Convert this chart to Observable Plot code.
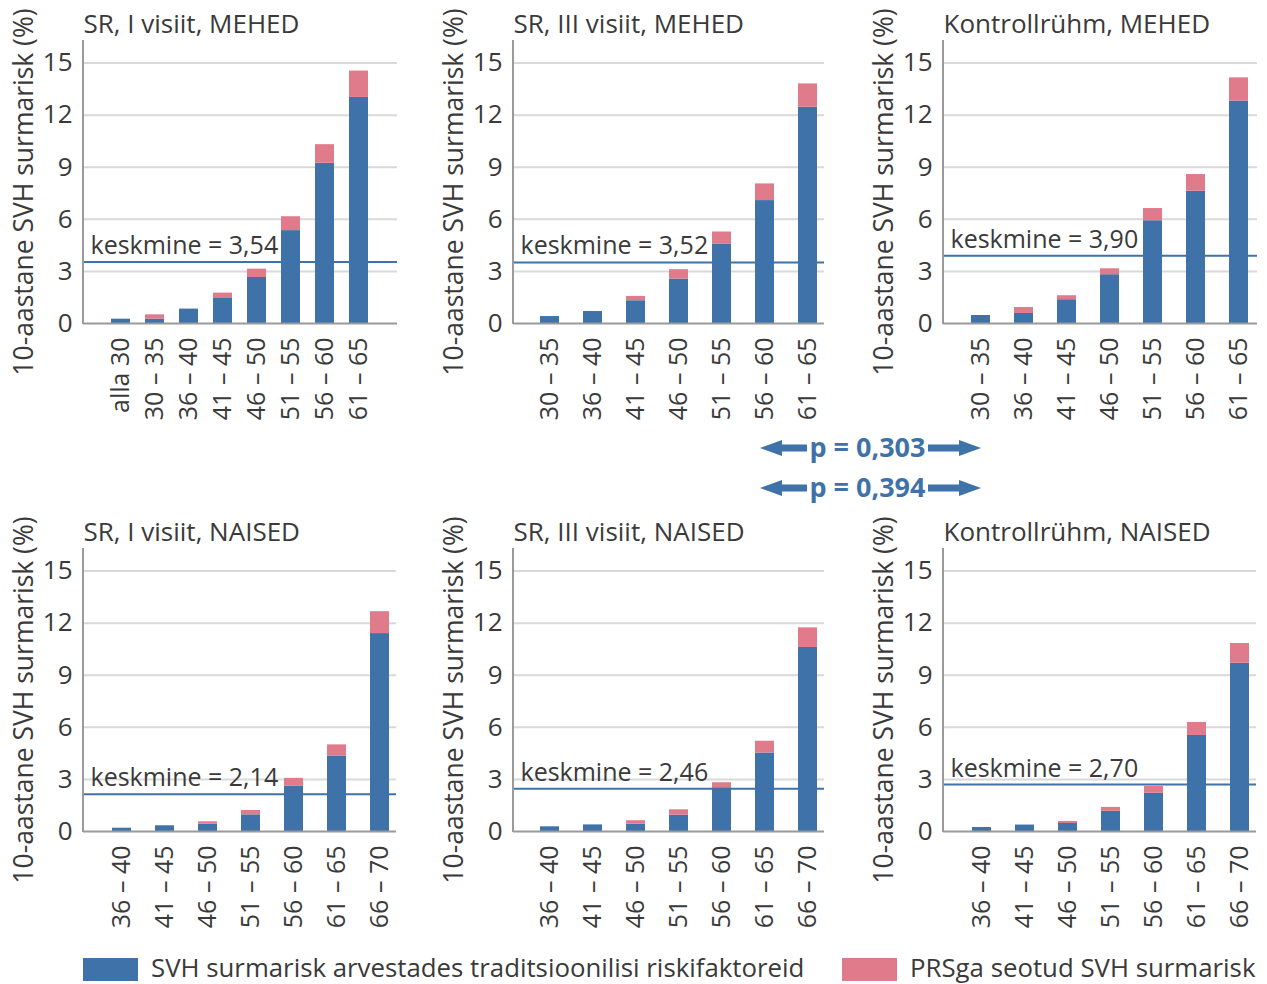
<!DOCTYPE html>
<html><head><meta charset="utf-8">
<script src="https://cdn.jsdelivr.net/npm/d3@7"></script>
<script src="https://cdn.jsdelivr.net/npm/@observablehq/plot@0.6"></script>
<style>
body{margin:0;background:#fff;}
#root{position:relative;width:1267px;height:984px;font-family:"Open Sans",sans-serif;color:#3a3a3a;overflow:hidden;}
.panel{position:absolute;}
.legend{position:absolute;top:950px;font-size:25.8px;white-space:nowrap;line-height:34px;}
.sw{position:absolute;width:55px;height:23px;top:8px;}
</style></head><body><div id="root"></div>
<script>
// ---------- data ----------
const yTicks = [0, 3, 6, 9, 12, 15];
const yLabel = "10-aastane SVH surmarisk (%)";
const legendTrad = "SVH surmarisk arvestades traditsioonilisi riskifaktoreid";
const legendPrs = "PRSga seotud SVH surmarisk";
const pValues = ["0,303", "0,394"];

const titles = ["SR, I visiit, MEHED", "SR, III visiit, MEHED", "Kontrollrühm, MEHED",
                "SR, I visiit, NAISED", "SR, III visiit, NAISED", "Kontrollrühm, NAISED"];

const agesMen1 = ["alla 30", "30 – 35", "36 – 40", "41 – 45", "46 – 50", "51 – 55", "56 – 60", "61 – 65"];
const agesMen = ["30 – 35", "36 – 40", "41 – 45", "46 – 50", "51 – 55", "56 – 60", "61 – 65"];
const agesWomen = ["36 – 40", "41 – 45", "46 – 50", "51 – 55", "56 – 60", "61 – 65", "66 – 70"];

const tradMen1 = [0.25, 0.25, 0.83, 1.44, 2.65, 5.35, 9.23, 13.02];
const prsMen1  = [0.00, 0.25, 0.00, 0.31, 0.48, 0.80, 1.07, 1.52];
const tradMen3 = [0.40, 0.69, 1.31, 2.56, 4.58, 7.08, 12.46];
const prsMen3  = [0.00, 0.00, 0.25, 0.54, 0.69, 0.96, 1.34];
const tradMenC = [0.46, 0.58, 1.37, 2.81, 5.92, 7.62, 12.81];
const prsMenC  = [0.00, 0.34, 0.23, 0.34, 0.70, 0.96, 1.34];
const tradWomen1 = [0.19, 0.33, 0.42, 0.96, 2.62, 4.35, 11.40];
const prsWomen1  = [0.00, 0.00, 0.14, 0.25, 0.44, 0.64, 1.26];
const tradWomen3 = [0.27, 0.38, 0.42, 0.94, 2.46, 4.52, 10.60];
const prsWomen3  = [0.00, 0.00, 0.20, 0.31, 0.35, 0.68, 1.13];
const tradWomenC = [0.23, 0.37, 0.46, 1.16, 2.20, 5.53, 9.69];
const prsWomenC  = [0.00, 0.00, 0.12, 0.23, 0.40, 0.75, 1.14];

const means = [3.54, 3.52, 3.90, 2.14, 2.46, 2.70];

// ---------- styles / layout ----------
const FONT = "'Open Sans', sans-serif";
const BLUE = "#3f72a9", PINK = "#e07b8c", GRID = "#d9d9d9", AXIS = "#9a9a9a", TEXT = "#3a3a3a";
const TRAD = "trad", PRS = "prs";

const series = [
  {cats: agesMen1, trad: tradMen1, prs: prsMen1},
  {cats: agesMen, trad: tradMen3, prs: prsMen3},
  {cats: agesMen, trad: tradMenC, prs: prsMenC},
  {cats: agesWomen, trad: tradWomen1, prs: prsWomen1},
  {cats: agesWomen, trad: tradWomen3, prs: prsWomen3},
  {cats: agesWomen, trad: tradWomenC, prs: prsWomenC}
];
const layout = [
  {left: 0,   top: 0,   width: 420, mr: 23, xr: [110, 369], pi: 0.43},
  {left: 430, top: 0,   width: 420, mr: 26, xr: [109, 388], pi: 0.55},
  {left: 860, top: 0,   width: 407, mr: 10, xr: [110, 390], pi: 0.55},
  {left: 0,   top: 508, width: 420, mr: 24, xr: [111, 390], pi: 0.55},
  {left: 430, top: 508, width: 420, mr: 26, xr: [109, 388], pi: 0.55},
  {left: 860, top: 508, width: 407, mr: 11, xr: [111, 390], pi: 0.55}
];

const root = document.getElementById("root");
const fmt = v => v.toFixed(2).replace(".", ",");

series.forEach((s, k) => {
  const L = layout[k];
  const rows = [];
  s.cats.forEach((c, i) => {
    rows.push({cat: c, part: TRAD, v: s.trad[i]});
    rows.push({cat: c, part: PRS, v: s.prs[i]});
  });
  const mT = 40, H = 430, mB = 107, mL = 83;
  const svg = Plot.plot({
    width: L.width, height: H,
    marginTop: mT, marginBottom: mB, marginLeft: mL, marginRight: L.mr,
    style: {fontFamily: FONT, fontSize: "25px", color: TEXT, background: "transparent", overflow: "visible"},
    x: {domain: s.cats, range: L.xr, paddingInner: L.pi, paddingOuter: 0},
    y: {domain: [0, 16.3]},
    color: {domain: [TRAD, PRS], range: [BLUE, PINK]},
    marks: [
      Plot.gridY(yTicks.slice(1), {stroke: GRID, strokeOpacity: 1, strokeWidth: 2}),
      Plot.barY(rows, Plot.stackY({x: "cat", y: "v", fill: "part"})),
      Plot.ruleY([means[k]], {stroke: BLUE, strokeWidth: 2}),
      Plot.text([`keskmine = ${fmt(means[k])}`], {text: d => d, y: [means[k]], frameAnchor: "left",
        textAnchor: "start", lineAnchor: "bottom", dx: 7, dy: -8, fontSize: 25, fill: TEXT}),
      Plot.ruleY([0], {stroke: AXIS, strokeWidth: 2}),
      Plot.axisY(yTicks, {tickSize: 0, tickPadding: 11, label: null, fontSize: 26, fill: TEXT}),
      Plot.axisX({tickSize: 0, tickRotate: -90, tickPadding: 14, label: null, fontSize: 25, fill: TEXT}),
      Plot.text([yLabel], {text: d => d, frameAnchor: "left", rotate: -90, dx: -59, dy: 10,
        textAnchor: "middle", lineAnchor: "middle", fontSize: 26.5, fill: TEXT}),
      Plot.text([titles[k]], {text: d => d, frameAnchor: "top-left", textAnchor: "start",
        lineAnchor: "bottom", dy: -8, fontSize: 26, fill: TEXT})
    ]
  });
  d3.select(svg).append("line")
    .attr("x1", mL).attr("x2", mL).attr("y1", mT).attr("y2", H - mB + 1)
    .attr("stroke", AXIS).attr("stroke-width", 2);
  const wrap = document.createElement("div");
  wrap.className = "panel";
  wrap.style.left = L.left + "px";
  wrap.style.top = L.top + "px";
  wrap.appendChild(svg);
  root.appendChild(wrap);
});

// ---------- p-value arrows ----------
const pv = d3.select(root).append("svg").attr("width", 300).attr("height", 90)
  .style("position", "absolute").style("left", "750px").style("top", "420px").style("overflow", "visible");
pValues.forEach((p, i) => {
  const cy = 28 + i * 40;
  const g = pv.append("g");
  g.append("text").attr("x", 117.5).attr("y", cy + 9).attr("text-anchor", "middle")
    .attr("font-family", FONT).attr("font-weight", 700).attr("font-size", 27).attr("fill", BLUE)
    .text(`p = ${p}`);
  const left = 10, right = 231, tl = 57, tr = 178;
  const arrow = (x0, x1, dir) => {
    const hl = 22 * dir, hh = 8, sh = 3.5;
    return `M${x0},${cy} L${x0 + hl},${cy - hh} L${x0 + hl},${cy - sh} L${x1},${cy - sh} L${x1},${cy + sh} L${x0 + hl},${cy + sh} L${x0 + hl},${cy + hh} Z`;
  };
  g.append("path").attr("d", arrow(left, tl, 1)).attr("fill", BLUE);
  g.append("path").attr("d", arrow(right, tr, -1)).attr("fill", BLUE);
});

// ---------- legend ----------
const leg = document.createElement("div");
leg.innerHTML = `
  <div class="sw" style="left:83px;top:958px;position:absolute;background:${BLUE}"></div>
  <div class="legend" style="left:151px">${legendTrad}</div>
  <div class="sw" style="left:842px;top:958px;position:absolute;background:${PINK}"></div>
  <div class="legend" style="left:910px">${legendPrs}</div>`;
root.appendChild(leg);
</script>
</body></html>
